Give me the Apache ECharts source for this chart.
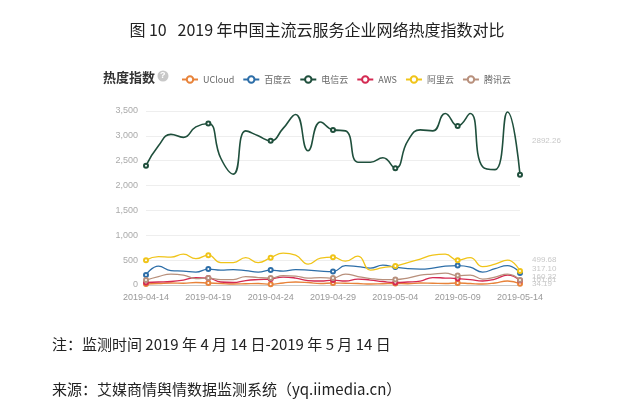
<!DOCTYPE html>
<html><head><meta charset="utf-8">
<script src="https://cdn.jsdelivr.net/npm/echarts@6/dist/echarts.min.js"></script>
<style>body{margin:0;background:#fff}#c{width:634px;height:419px}</style>
</head><body><div id="c"></div>
<script>
var dates = [];
for (var d = 14; d <= 30; d++) dates.push('2019-04-' + d);
for (var d = 1; d <= 14; d++) dates.push('2019-05-' + (d < 10 ? '0' + d : d));

var names = ['UCloud', '百度云', '电信云', 'AWS', '阿里云', '腾讯云'];
var colors = ['#e8833a', '#2d6ea8', '#1f4f3c', '#d42a52', '#f0c419', '#b8907c'];

var ucloud = [20,30,40,35,50,40,30,20,25,30,15,40,60,50,30,40,35,30,20,25,30,25,40,35,30,40,30,20,40,80,25];
var baidu = [200,380,290,280,260,320,300,310,290,260,300,280,310,300,280,270,390,370,340,400,360,330,320,340,380,390,360,260,330,390,240];
var telecom = [2400,2800,3030,2970,3180,3250,2550,2230,3100,3000,2900,3150,3430,2700,3280,3120,3100,2470,2470,2560,2350,2900,3120,3100,3450,3200,3450,2380,2320,3480,2220];
var aws = [50,60,70,100,150,140,60,50,90,110,120,160,140,90,80,100,80,120,100,70,50,60,80,150,140,130,110,80,120,200,90];
var aliyun = [500,570,560,620,530,600,450,450,550,450,550,640,600,420,540,560,480,580,300,350,380,450,520,600,620,500,550,370,420,500,280];
var tencent = [100,170,220,200,130,140,110,110,170,150,140,190,180,140,150,140,220,170,130,110,110,140,200,220,240,190,200,120,160,220,100];
var seriesData = [ucloud, baidu, telecom, aws, aliyun, tencent];

var chart = echarts.init(document.getElementById('c'));
chart.setOption({
  color: colors,
  title: [
    {text: '图 10   2019 年中国主流云服务企业网络热度指数对比', left: 'center', top: 17,
     textStyle: {fontSize: 16, fontWeight: 'normal', color: '#222', fontFamily: 'Noto Sans CJK SC'}},
    {text: '热度指数', left: 98, top: 66, textStyle: {fontSize: 13, fontWeight: 'bold', color: '#333', fontFamily: 'Noto Sans CJK SC'}},
    {text: '注：监测时间 2019 年 4 月 14 日-2019 年 5 月 14 日', left: 47, top: 332,
     textStyle: {fontSize: 15, fontWeight: 'normal', color: '#222', fontFamily: 'Noto Sans CJK SC'}},
    {text: '来源：艾媒商情舆情数据监测系统（yq.iimedia.cn）', left: 47, top: 377,
     textStyle: {fontSize: 15, fontWeight: 'normal', color: '#222', fontFamily: 'Noto Sans CJK SC'}}
  ],
  graphic: [{type: 'circle', shape: {cx: 163, cy: 76, r: 5.5}, style: {fill: '#c8c8c8'}},
            {type: 'text', x: 160, y: 71, style: {text: '?', fill: '#fff', font: 'bold 9px sans-serif'}}],
  legend: {left: 176, top: 70, itemWidth: 16, itemHeight: 8, itemGap: 8,
    textStyle: {fontSize: 9, color: '#666', fontFamily: 'Noto Sans CJK SC'}, data: names},
  grid: {left: 146, right: 114, top: 111, bottom: 134},
  xAxis: {type: 'category', data: dates, boundaryGap: false,
    axisLine: {lineStyle: {color: '#ccc'}}, axisTick: {show: false},
    axisLabel: {interval: 4, color: '#999', fontSize: 9}},
  yAxis: {type: 'value', min: 0, max: 3500, interval: 500,
    axisLine: {show: false}, axisTick: {show: false},
    axisLabel: {color: '#aaa', fontSize: 9}, splitLine: {lineStyle: {color: '#eee'}}},
  series: names.map(function (n, i) {
    return {name: n, type: 'line', smooth: true, data: seriesData[i], clip: false,
      symbol: 'emptyCircle', symbolSize: 4, showAllSymbol: false,
      lineStyle: {width: i === 2 ? 1.6 : 1.3},
      markLine: {silent: true, symbol: 'none', data: [{type: 'average'}],
        lineStyle: {color: 'rgba(0,0,0,0)', width: 0},
        label: {show: true, position: 'end', distance: 12, color: '#c8c8c8', fontSize: 8,
          formatter: function (p) { return Number(p.value).toFixed(2); }}}};
  })
});
</script></body></html>
